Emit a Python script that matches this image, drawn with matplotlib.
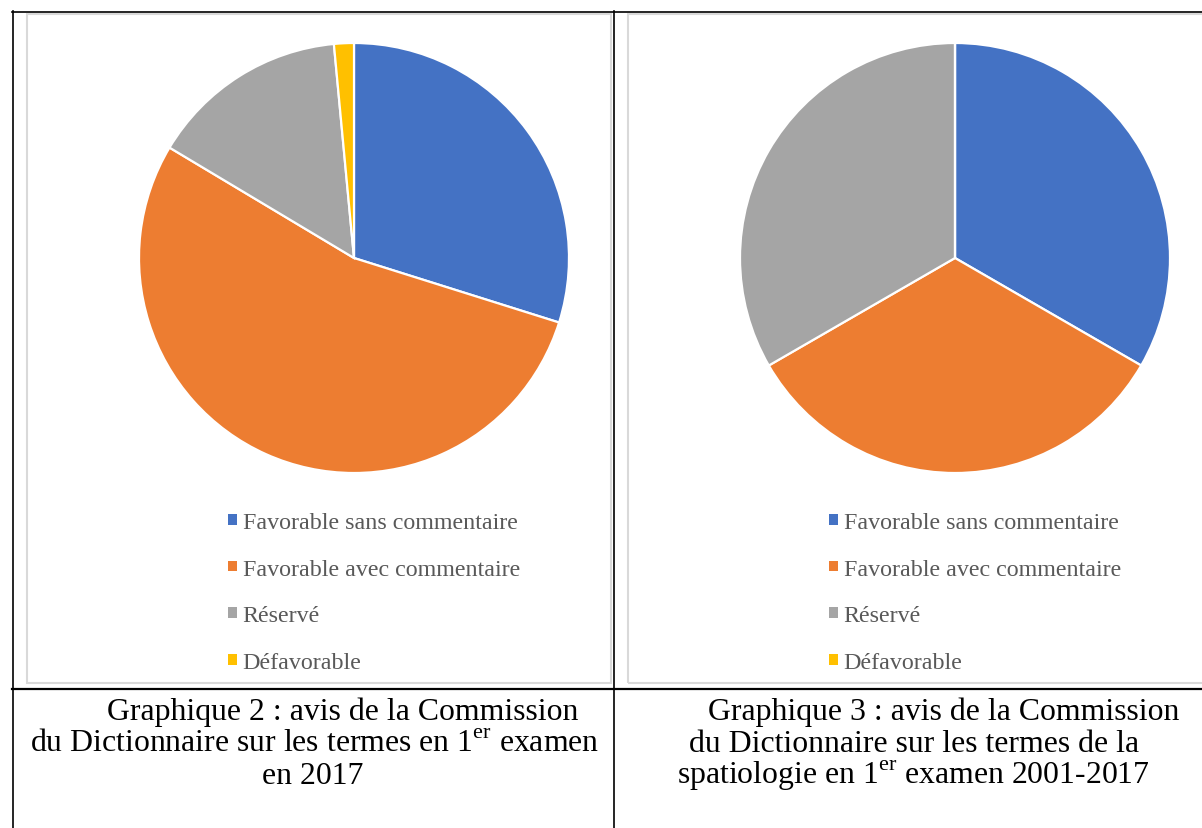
import matplotlib.pyplot as plt
from matplotlib.patches import Rectangle
from matplotlib.lines import Line2D

plt.rcParams['font.family'] = ['Liberation Serif', 'DejaVu Serif']
plt.rcParams['mathtext.fontset'] = 'custom'
plt.rcParams['mathtext.rm'] = 'Liberation Serif'

categories = ['Favorable sans commentaire', 'Favorable avec commentaire',
              'Réservé', 'Défavorable']
colors = ['#4472C4', '#ED7D31', '#A5A5A5', '#FFC000']
values_2017 = [40, 72, 20, 2]          # graphique 2
values_2001_2017 = [1, 1, 1, 0]        # graphique 3

W, H = 1202, 829
fig = plt.figure(figsize=(W / 100, H / 100), dpi=100)


def fx(x):
    return x / W


def fy(y):
    return 1 - y / H


def line(x0, y0, x1, y1, lw=1.2, color='black'):
    fig.add_artist(Line2D([fx(x0), fx(x1)], [fy(y0), fy(y1)], color=color,
                          lw=lw, transform=fig.transFigure))


def frame(x0, y0, x1, y1):
    fig.add_artist(Rectangle((fx(x0), fy(y1)), fx(x1) - fx(x0), fy(y0) - fy(y1),
                             transform=fig.transFigure, fill=False,
                             edgecolor='#D9D9D9', lw=1.5))


# chart areas (light gray frames)
frame(27, 14.5, 611, 684)
frame(628, 14.5, 1215, 684)

# table lines
line(12, 13, W, 13)
line(13, 12, 13, H)
line(614, 12, 614, H)
line(12, 690, W, 690, lw=1.6)


def pie_chart(cx, cy, r, values, leg_x, leg_y):
    ax = fig.add_axes([fx(cx - r), fy(cy + r), 2 * r / W, 2 * r / H])
    wedges, _ = ax.pie(values, colors=colors, startangle=90, counterclock=False,
                       wedgeprops=dict(edgecolor='white', linewidth=1.6))
    for w in wedges:
        w.set_clip_on(False)
    ax.set_xlim(-1, 1)
    ax.set_ylim(-1, 1)
    ax.set_aspect('equal')
    ax.axis('off')
    leg = fig.legend(wedges, categories, loc='upper left',
                     bbox_to_anchor=(fx(leg_x), fy(leg_y)), frameon=False,
                     fontsize=17.3, labelcolor='#595959', handlelength=0.36,
                     handleheight=0.3, handletextpad=0.25, labelspacing=1.07,
                     borderpad=0, borderaxespad=0)
    for h in leg.legend_handles:
        h.set_linewidth(0)


pie_chart(354, 259, 215, values_2017, 228, 513)
pie_chart(955, 259, 215, values_2001_2017, 829, 513)

# captions
cap = dict(fontsize=22.9, color='black', va='baseline', ha='left')
fig.text(fx(107), fy(720), 'Graphique 2 : avis de la Commission', **cap)
fig.text(fx(30), fy(752), 'du Dictionnaire sur les termes en 1$^{\\rm er}$ examen', **cap)
fig.text(fx(262), fy(784), 'en 2017', **cap)
fig.text(fx(708), fy(720), 'Graphique 3 : avis de la Commission', **cap)
fig.text(fx(689), fy(752), 'du Dictionnaire sur les termes de la', **cap)
fig.text(fx(677), fy(784), 'spatiologie en 1$^{\\rm er}$ examen 2001-2017', **cap)

plt.savefig('out.png', dpi=100)
